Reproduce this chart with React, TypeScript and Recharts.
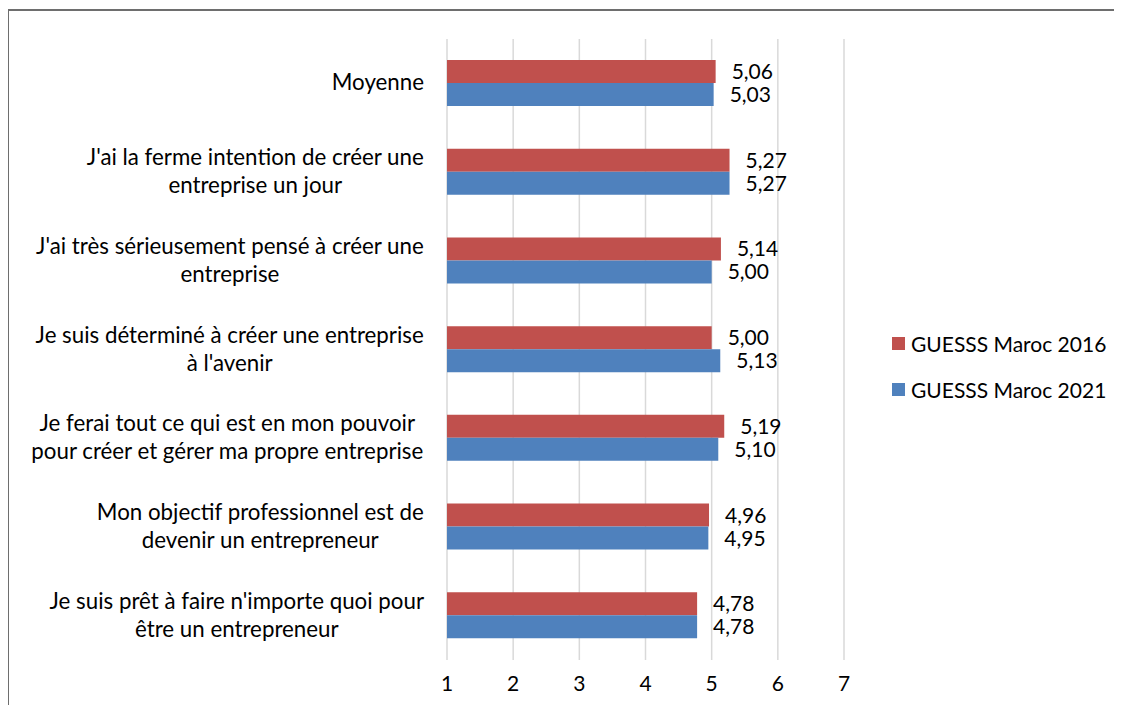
import React from 'react';
import {
    BarChart,
    Bar,
    XAxis,
    YAxis,
    CartesianGrid,
    Legend,
    LabelList,
} from 'recharts';

const CATEGORIES = [
    'Moyenne',
    "J'ai la ferme intention de créer une\nentreprise un jour",
    "J'ai très sérieusement pensé à créer une\nentreprise",
    "Je suis déterminé à créer une entreprise\nà l'avenir",
    'Je ferai tout ce qui est en mon pouvoir\npour créer et gérer ma propre entreprise',
    'Mon objectif professionnel est de\ndevenir un entrepreneur',
    "Je suis prêt à faire n'importe quoi pour\nêtre un entrepreneur",
];
const VALUES_2016 = [5.06, 5.27, 5.14, 5.0, 5.19, 4.96, 4.78];
const VALUES_2021 = [5.03, 5.27, 5.0, 5.13, 5.1, 4.95, 4.78];
const X_TICKS = [1, 2, 3, 4, 5, 6, 7];
const SERIES_NAMES = ['GUESSS Maroc 2016', 'GUESSS Maroc 2021'];

const RED = '#C0504D';
const BLUE = '#4F81BD';
const FONT = 'Lato, "Open Sans", sans-serif';
const FONT_SIZE = 21;
const CAT_FONT_SIZE = 22.3;

const data = CATEGORIES.map((name, i) => ({
    name,
    v2016: VALUES_2016[i],
    v2021: VALUES_2021[i],
}));

let ctx: CanvasRenderingContext2D | null = null;
const measure = (s: string) => {
    if (!ctx) ctx = document.createElement('canvas').getContext('2d');
    if (!ctx) return s.length * 10;
    ctx.font = `${CAT_FONT_SIZE}px Lato`;
    return ctx.measureText(s).width;
};

const fmt = (v: any) => Number(v).toFixed(2).replace('.', ',');

// multi-line category label, lines centred, block right-aligned to the axis
const CategoryTick = ({ x, y, payload }: any) => {
    const lines = String(payload.value).split('\n');
    const w = Math.max(...lines.map(measure));
    const cx = x - 23 - w / 2;
    const lh = 28;
    return (
        <g>
            {lines.map((l, i) => (
                <text
                    key={i}
                    x={cx}
                    y={y + (i - (lines.length - 1) / 2) * lh}
                    dy={7}
                    textAnchor="middle"
                    fontFamily={FONT}
                    fontSize={CAT_FONT_SIZE}
                    fill="#000"
                >
                    {l}
                </text>
            ))}
        </g>
    );
};

const ValueTick = ({ x, y, payload }: any) => (
    <text x={x} y={y + 31} textAnchor="middle" fontFamily={FONT} fontSize={FONT_SIZE} fill="#000">
        {payload.value}
    </text>
);

const LegendContent = ({ payload }: any) => (
    <div>
        {(payload || []).map((p: any) => (
            <div key={p.value} style={{ display: 'flex', alignItems: 'center', height: 46 }}>
                <span style={{ width: 13, height: 13, background: p.color, marginRight: 6 }} />
                <span style={{ fontFamily: FONT, fontSize: FONT_SIZE, color: '#000' }}>{p.value}</span>
            </div>
        ))}
    </div>
);

export default function App() {
    return (
        <div style={{ position: 'relative', width: 1106, height: 697 }}>
            <BarChart
                width={1106}
                height={697}
                data={data}
                layout="vertical"
                margin={{ top: 31, right: 270, left: 0, bottom: 15 }}
                barGap={0}
            >
                <CartesianGrid horizontal={false} stroke="#d9d9d9" strokeWidth={1.5} />
                <XAxis
                    type="number"
                    domain={[1, 7]}
                    ticks={X_TICKS}
                    axisLine={false}
                    tickLine={false}
                    tickSize={0}
                    tickMargin={0}
                    height={30}
                    tick={<ValueTick />}
                    interval={0}
                />
                <YAxis
                    type="category"
                    dataKey="name"
                    width={439}
                    axisLine={false}
                    tickLine={false}
                    tickSize={0}
                    tickMargin={0}
                    tick={<CategoryTick />}
                    interval={0}
                />
                <Legend
                    layout="vertical"
                    align="center"
                    verticalAlign="middle"
                    content={<LegendContent />}
                    wrapperStyle={{ left: 884, top: 312, width: 'auto' }}
                />
                <Bar dataKey="v2016" name={SERIES_NAMES[0]} fill={RED} barSize={23} isAnimationActive={false}>
                    <LabelList
                        dataKey="v2016"
                        position="right"
                        offset={16}
                        formatter={fmt}
                        fill="#000"
                        fontFamily={FONT}
                        fontSize={FONT_SIZE}
                    />
                </Bar>
                <Bar dataKey="v2021" name={SERIES_NAMES[1]} fill={BLUE} barSize={23} isAnimationActive={false}>
                    <LabelList
                        dataKey="v2021"
                        position="right"
                        offset={16}
                        formatter={fmt}
                        fill="#000"
                        fontFamily={FONT}
                        fontSize={FONT_SIZE}
                    />
                </Bar>
            </BarChart>
            {/* chart frame: only its left and top edges fall inside the picture */}
            <svg
                width={1110}
                height={698}
                style={{ position: 'absolute', left: -1, top: 1, pointerEvents: 'none' }}
            >
                <line x1={0} y1={1} x2={1110} y2={1} stroke="#6e6e6e" strokeWidth={2} />
                <line x1={1} y1={0} x2={1} y2={698} stroke="#6e6e6e" strokeWidth={2} />
            </svg>
        </div>
    );
}
